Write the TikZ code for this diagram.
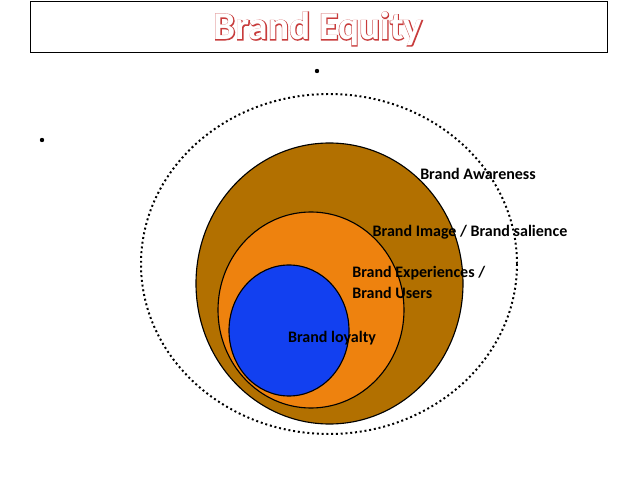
\documentclass[tikz,border=0pt]{standalone}
\usepackage{fontspec}
\setmainfont{Carlito}
\newfontfamily\titlefont[FakeBold=4]{Carlito Bold}
\definecolor{brandbrown}{RGB}{178,112,0}
\definecolor{brandorange}{RGB}{238,130,14}
\definecolor{brandblue}{RGB}{18,64,240}
\definecolor{titlered}{RGB}{200,60,60}
\begin{document}
\begin{tikzpicture}[x=0.25mm,y=-0.25mm,
    ring/.style={draw=black,thick},
    lbl/.style={font=\bfseries\fontsize{11.4}{13}\selectfont,inner sep=0pt}
    ]
    \useasboundingbox (0,0) rectangle (638,479);
    % title
    \node[draw=black,minimum width=577*0.25mm,minimum height=51*0.25mm,anchor=north west,inner sep=0pt] (titlebox) at (30,1) {};
    \node[text=titlered,font=\titlefont\fontsize{28}{32}\selectfont] (title) at (318,29) {Brand Equity};
    \node[text=white,font=\bfseries\fontsize{28}{32}\selectfont] (titlefill) at (318,29) {Brand Equity};
    % dots
    \fill (317,71) circle (2.2);
    \fill (42,140) circle (2.2);
    % rings
    \draw[line width=1.4pt,dotted] (329,264) ellipse [x radius=188, y radius=170];
    \draw[ring,fill=brandbrown] (329.5,283.5) ellipse [x radius=133.5, y radius=140.5];
    \draw[ring,fill=brandorange] (311,310) ellipse [x radius=93, y radius=98];
    \draw[ring,fill=brandblue] (289,330.5) ellipse [x radius=60, y radius=65.5];
    % labels
    \node[lbl] (awareness) at (478,174) {Brand Awareness};
    \node[lbl] (image) at (470,232) {Brand Image / Brand salience};
    \node[lbl,anchor=west] (experiences) at (352,273) {Brand Experiences /};
    \node[lbl,anchor=west] (users) at (352,293) {Brand Users};
    \node[lbl] (loyalty) at (332,338) {Brand loyalty};
\end{tikzpicture}
\end{document}
